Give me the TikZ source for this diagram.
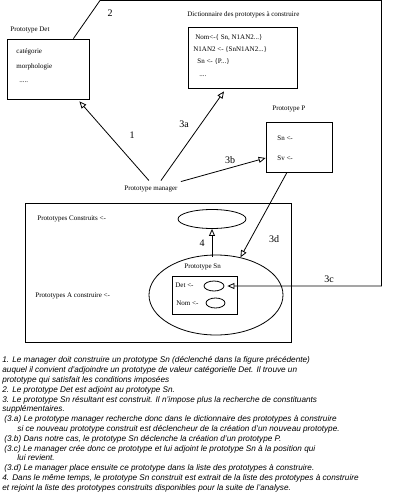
\documentclass[tikz,border=0pt]{standalone}
\usepackage{fontspec}
\setmainfont{Liberation Serif}
\setsansfont{Liberation Sans}
\usetikzlibrary{arrows.meta,shapes.geometric,calc}
\begin{document}
\begin{tikzpicture}[x=1pt,y=-1pt,
  line width=0.8pt,
  lbl/.style={font=\fontsize{7}{8}\selectfont, inner sep=0pt, anchor=west},
  num/.style={font=\fontsize{10}{11}\selectfont, inner sep=0pt},
  box/.style={draw, rectangle, inner sep=0pt},
  ell/.style={draw, ellipse, inner sep=0pt},
  arr/.style={-{Triangle[open,length=7pt,width=6pt]}}]
\useasboundingbox (0,0) rectangle (408,495);
% Prototype Det
\node[lbl] (detlbl) at (10,30) {Prototype Det};
\node[box, minimum width=82pt, minimum height=60pt] (det) at (48,69) {};
\node[lbl] (cat) at (16,52) {catégorie};
\node[lbl] (morph) at (16,67) {morphologie};
\node[lbl] (dots1) at (19,82) {.....};
% Dictionnaire
\node[lbl] (dictlbl) at (187,15) {Dictionnaire des prototypes à construire};
\node[box, minimum width=109pt, minimum height=61pt] (dict) at (242.5,57.5) {};
\node[lbl] (d1) at (195,38) {Nom<-\{ Sn, N1AN2...\}};
\node[lbl] (d2) at (193,50) {N1AN2 <- \{SnN1AN2...\}};
\node[lbl] (d3) at (197,62) {Sn <- \{P...\}};
\node[lbl] (d4) at (199,76) {....};
% Prototype P
\node[lbl] (plbl) at (272,109) {Prototype P};
\node[box, minimum width=66pt, minimum height=50pt] (P) at (299,147) {};
\node[lbl] (psn) at (277,138) {Sn <-};
\node[lbl] (psv) at (277,158) {Sv <-};
% manager
\node[lbl] (mgr) at (124,189) {Prototype manager};
% big rectangle
\node[box, minimum width=266pt, minimum height=139pt] (big) at (158,272.5) {};
\node[lbl] (constr) at (37,219) {Prototypes Construits <-};
\node[lbl] (acons) at (35,296) {Prototypes A construire <-};
\node[ell, minimum width=68pt, minimum height=19pt] (topell) at (212,219) {};
\node[ell, minimum width=134pt, minimum height=80pt] (bigell) at (216,295) {};
\node[lbl] (snlbl) at (184,267) {Prototype Sn};
\node[box, minimum width=65pt, minimum height=38pt] (inner) at (204.5,295) {};
\node[lbl] (detin) at (175,285) {Det <-};
\node[lbl] (nomin) at (176,303) {Nom <-};
\node[ell, minimum width=20pt, minimum height=10pt] (detell) at (214,286) {};
\node[ell, minimum width=19pt, minimum height=10pt] (nomell) at (215.5,303) {};
% corners of the long connector
\coordinate (c1) at (100,0.5);
\coordinate (c2) at (381.5,0.5);
% connectors
\draw[arr] ([xshift=-2pt,yshift=5pt]mgr.north) -- ([xshift=-10pt,yshift=-2pt]det.south east);
\draw[arr] ([xshift=10pt,yshift=5pt]mgr.north) -- ([xshift=-18.5pt,yshift=-3pt]dict.south);
\draw[arr] ([xshift=30pt,yshift=4pt]mgr.north) -- ([yshift=-11pt]P.west);
\draw[arr] ([xshift=-12pt]P.south) -- (bigell.57);
\draw[arr] ([yshift=-2pt]topell.south |- bigell.north) -- (topell.south);
\draw[arr] ([xshift=-16pt]det.north east) -- (c1) -- (c2) |- ([xshift=3pt]detell.east);
% numbers
\node[num] (n2) at (110,13) {2};
\node[num] (n1) at (132,135) {1};
\node[num] (n3a) at (184,124) {3a};
\node[num] (n3b) at (230,160) {3b};
\node[num] (n3d) at (274,239) {3d};
\node[num] (n3c) at (329,279) {3c};
\node[num] (n4) at (202,243) {4};
% notes
\node[anchor=north west, inner sep=0pt, align=left,
  font=\sffamily\itshape\fontsize{8.2}{9.8}\selectfont] (notes) at (2,356.5) {%
1. Le manager doit construire un prototype Sn (déclenché dans la figure précédente)\\
auquel il convient d'adjoindre un prototype de valeur catégorielle Det. Il trouve un\\
prototype qui satisfait les conditions imposées\\
2. Le prototype Det est adjoint au prototype Sn.\\
3. Le prototype Sn résultant est construit. Il n'impose plus la recherche de constituants\\
supplémentaires.\\
\hspace*{2pt}(3.a) Le prototype manager recherche donc dans le dictionnaire des prototypes à construire\\
\hspace*{15pt}si ce nouveau prototype construit est déclencheur de la création d'un nouveau prototype.\\
\hspace*{2pt}(3.b) Dans notre cas, le prototype Sn déclenche la création d'un prototype P.\\
\hspace*{2pt}(3.c) Le manager crée donc ce prototype et lui adjoint le prototype Sn à la position qui\\
\hspace*{15pt}lui revient.\\
\hspace*{2pt}(3.d) Le manager place ensuite ce prototype dans la liste des prototypes à construire.\\
4. Dans le même temps, le prototype Sn construit est extrait de la liste des prototypes à construire\\
et rejoint la liste des prototypes construits disponibles pour la suite de l'analyse.};
\end{tikzpicture}
\end{document}
